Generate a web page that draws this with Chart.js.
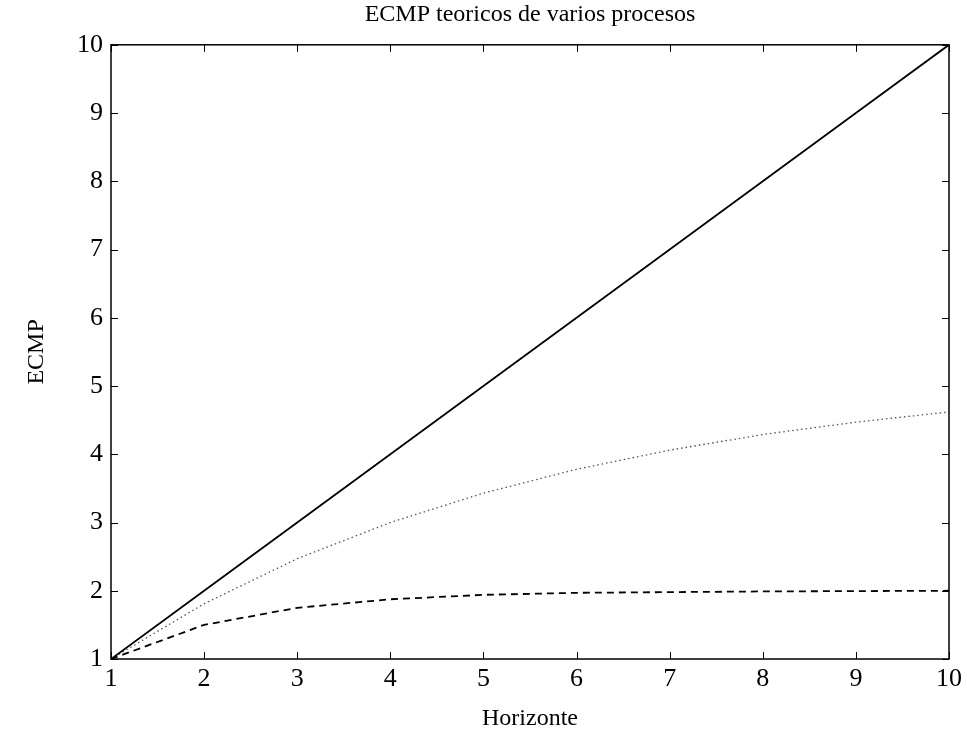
<!DOCTYPE html>
<html>
<head>
<meta charset="utf-8">
<script src="https://cdn.jsdelivr.net/npm/chart.js@4.4.1/dist/chart.umd.min.js"></script>
<style>
  html, body { margin: 0; padding: 0; background: #fff; }
  #wrap { width: 967px; height: 739px; }
</style>
</head>
<body>
<div id="wrap"><canvas id="ecmpChart" width="967" height="739"></canvas></div>
<script>
// horizonte de prediccion
const horizonte = [1, 2, 3, 4, 5, 6, 7, 8, 9, 10];
// ECMP de cada proceso
const ecmpSolida = [1, 2, 3, 4, 5, 6, 7, 8, 9, 10];
const ecmpPunteada = [1, 1.81, 2.47, 3.0, 3.43, 3.78, 4.06, 4.29, 4.47, 4.62];
const ecmpDiscontinua = [1, 1.5, 1.75, 1.875, 1.94, 1.97, 1.98, 1.99, 1.995, 2.0];
const xTicks = [1, 2, 3, 4, 5, 6, 7, 8, 9, 10];
const yTicks = [1, 2, 3, 4, 5, 6, 7, 8, 9, 10];

const serif = 'Liberation Serif';

function toPoints(ys) {
    return horizonte.map(function (h, i) { return { x: h, y: ys[i] }; });
}

// caja y marcas hacia dentro, estilo matlab
const boxTicks = {
    id: 'boxTicks',
    afterDatasetsDraw: function (chart) {
        const ctx = chart.ctx;
        const a = chart.chartArea;
        const xs = chart.scales.x;
        const ys = chart.scales.y;
        const len = 7;
        ctx.save();
        ctx.strokeStyle = '#000';
        ctx.lineWidth = 1.5;
        ctx.strokeRect(a.left, a.top, a.right - a.left, a.bottom - a.top);
        ctx.lineWidth = 1;
        ctx.beginPath();
        xTicks.forEach(function (v) {
            const px = Math.round(xs.getPixelForValue(v)) + 0.5;
            ctx.moveTo(px, a.bottom); ctx.lineTo(px, a.bottom - len);
            ctx.moveTo(px, a.top); ctx.lineTo(px, a.top + len);
        });
        yTicks.forEach(function (v) {
            const py = Math.round(ys.getPixelForValue(v)) + 0.5;
            ctx.moveTo(a.left, py); ctx.lineTo(a.left + len, py);
            ctx.moveTo(a.right, py); ctx.lineTo(a.right - len, py);
        });
        ctx.stroke();
        ctx.restore();
    }
};

const ctx = document.getElementById('ecmpChart').getContext('2d');
new Chart(ctx, {
    type: 'line',
    data: {
        datasets: [{
            label: 'solida',
            data: toPoints(ecmpSolida),
            borderColor: '#000',
            borderWidth: 1.8,
            pointRadius: 0,
            fill: false,
            tension: 0
        }, {
            label: 'punteada',
            data: toPoints(ecmpPunteada),
            borderColor: '#555',
            borderWidth: 1.3,
            borderDash: [1.5, 3],
            pointRadius: 0,
            fill: false,
            tension: 0
        }, {
            label: 'discontinua',
            data: toPoints(ecmpDiscontinua),
            borderColor: '#000',
            borderWidth: 1.8,
            borderDash: [7, 5],
            pointRadius: 0,
            fill: false,
            tension: 0
        }]
    },
    options: {
        responsive: false,
        animation: false,
        layout: { padding: { top: 0, left: 0, right: 17, bottom: 0 } },
        plugins: {
            legend: { display: false },
            tooltip: { enabled: false },
            title: {
                display: true,
                fullSize: false,
                text: 'ECMP teoricos de varios procesos',
                color: '#000',
                font: { family: serif, size: 24, weight: 'normal' },
                padding: { top: 0, bottom: 16 }
            }
        },
        scales: {
            x: {
                type: 'linear',
                min: 1,
                max: 10,
                grid: { display: false, drawTicks: false },
                border: { display: false },
                afterBuildTicks: function (s) { s.ticks = xTicks.map(function (v) { return { value: v }; }); },
                afterFit: function (s) { s.height = 80; },
                ticks: {
                    color: '#000',
                    padding: 5,
                    maxRotation: 0,
                    font: { family: serif, size: 26 }
                },
                title: {
                    display: true,
                    text: 'Horizonte',
                    color: '#000',
                    font: { family: serif, size: 24 },
                    padding: { top: 0, bottom: 6 }
                }
            },
            y: {
                type: 'linear',
                min: 1,
                max: 10,
                grid: { display: false, drawTicks: false },
                border: { display: false },
                afterBuildTicks: function (s) { s.ticks = yTicks.map(function (v) { return { value: v }; }); },
                afterFit: function (s) { s.width = 111; },
                ticks: {
                    color: '#000',
                    padding: 8,
                    font: { family: serif, size: 26 }
                },
                title: {
                    display: true,
                    text: 'ECMP',
                    color: '#000',
                    font: { family: serif, size: 24 },
                    padding: { top: 22, bottom: 0 }
                }
            }
        }
    },
    plugins: [boxTicks]
});
</script>
</body>
</html>
